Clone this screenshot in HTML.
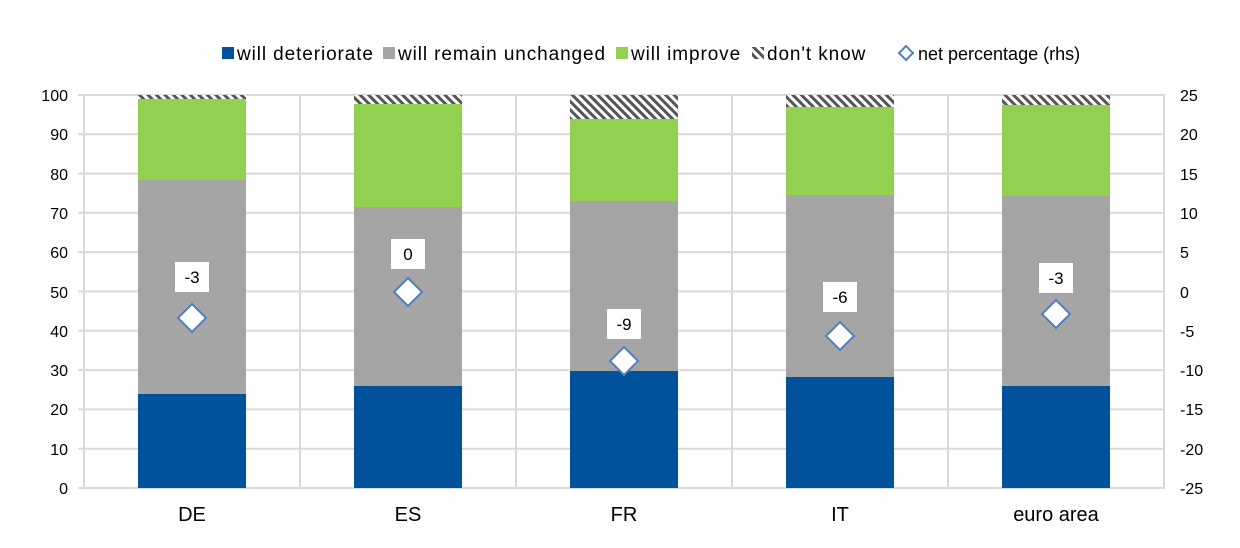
<!DOCTYPE html>
<html><head><meta charset="utf-8"><style>
html,body{margin:0;padding:0;background:#fff;}
svg{display:block;}
text{font-family:"Liberation Sans",Arial,sans-serif;fill:#000;}
.r{font-family:"Liberation Serif",serif;font-size:16px;}
</style></head><body>
<svg width="1240" height="548" viewBox="0 0 1240 548" xmlns="http://www.w3.org/2000/svg">
<defs>
<pattern id="h" patternUnits="userSpaceOnUse" width="6" height="6" patternTransform="rotate(-45)">
<rect width="6" height="6" fill="#fff"/><rect x="0" y="0" width="3" height="6" fill="#555"/>
</pattern>
</defs>
<g stroke="#d9d9d9" stroke-width="2">
<line x1="78" y1="95" x2="1165" y2="95"/>
<line x1="78" y1="134.3" x2="1165" y2="134.3"/>
<line x1="78" y1="173.6" x2="1165" y2="173.6"/>
<line x1="78" y1="212.9" x2="1165" y2="212.9"/>
<line x1="78" y1="252.2" x2="1165" y2="252.2"/>
<line x1="78" y1="291.5" x2="1165" y2="291.5"/>
<line x1="78" y1="330.8" x2="1165" y2="330.8"/>
<line x1="78" y1="370.1" x2="1165" y2="370.1"/>
<line x1="78" y1="409.4" x2="1165" y2="409.4"/>
<line x1="78" y1="448.7" x2="1165" y2="448.7"/>
<line x1="78" y1="488" x2="1165" y2="488"/>
<line x1="84" y1="95" x2="84" y2="488"/>
<line x1="300" y1="95" x2="300" y2="488"/>
<line x1="516" y1="95" x2="516" y2="488"/>
<line x1="732" y1="95" x2="732" y2="488"/>
<line x1="948" y1="95" x2="948" y2="488"/>
<line x1="1164" y1="95" x2="1164" y2="488"/>
</g>
<g>
<rect x="138" y="95" width="108" height="4" fill="url(#h)"/>
<rect x="138" y="99" width="108" height="81" fill="#92d050"/>
<rect x="138" y="180" width="108" height="214" fill="#a5a5a5"/>
<rect x="138" y="394" width="108" height="94" fill="#00529b"/>

<rect x="354" y="95" width="108" height="9" fill="url(#h)"/>
<rect x="354" y="104" width="108" height="103" fill="#92d050"/>
<rect x="354" y="207" width="108" height="179" fill="#a5a5a5"/>
<rect x="354" y="386" width="108" height="102" fill="#00529b"/>

<rect x="570" y="95" width="108" height="24" fill="url(#h)"/>
<rect x="570" y="119" width="108" height="82" fill="#92d050"/>
<rect x="570" y="201" width="108" height="170" fill="#a5a5a5"/>
<rect x="570" y="371" width="108" height="117" fill="#00529b"/>

<rect x="786" y="95" width="108" height="12" fill="url(#h)"/>
<rect x="786" y="107" width="108" height="88" fill="#92d050"/>
<rect x="786" y="195" width="108" height="182" fill="#a5a5a5"/>
<rect x="786" y="377" width="108" height="111" fill="#00529b"/>

<rect x="1002" y="95" width="108" height="10" fill="url(#h)"/>
<rect x="1002" y="105" width="108" height="91" fill="#92d050"/>
<rect x="1002" y="196" width="108" height="190" fill="#a5a5a5"/>
<rect x="1002" y="386" width="108" height="102" fill="#00529b"/>
</g>
<g fill="#fff" stroke="#4f81bd" stroke-width="2">
<polygon points="192,304 206,318 192,332 178,318"/>
<polygon points="408,278 422,292 408,306 394,292"/>
<polygon points="624,347 638,361 624,375 610,361"/>
<polygon points="840,322 854,336 840,350 826,336"/>
<polygon points="1056,300 1070,314 1056,328 1042,314"/>
</g>
<g fill="#fff">
<rect x="175" y="262" width="34" height="30"/>
<rect x="391" y="239" width="34" height="30"/>
<rect x="607" y="309" width="34" height="30"/>
<rect x="823" y="282" width="34" height="30"/>
<rect x="1039" y="263" width="34" height="30"/>
</g>
<g font-size="17" text-anchor="middle">
<text x="192" y="283">-3</text>
<text x="408" y="260">0</text>
<text x="624" y="330">-9</text>
<text x="840" y="303">-6</text>
<text x="1056" y="284">-3</text>
</g>
<g font-size="16" text-anchor="end">
<text x="68" y="101">100</text>
<text x="68" y="140">90</text>
<text x="68" y="180">80</text>
<text x="68" y="219">70</text>
<text x="68" y="258">60</text>
<text x="68" y="298">50</text>
<text x="68" y="337">40</text>
<text x="68" y="376">30</text>
<text x="68" y="415">20</text>
<text x="68" y="455">10</text>
<text x="68" y="494">0</text>
</g>
<g class="r">
<text x="1180" y="101">25</text>
<text x="1180" y="140">20</text>
<text x="1180" y="180">15</text>
<text x="1180" y="219">10</text>
<text x="1180" y="258">5</text>
<text x="1180" y="298">0</text>
<text x="1180" y="337">-5</text>
<text x="1180" y="376">-10</text>
<text x="1180" y="415">-15</text>
<text x="1180" y="455">-20</text>
<text x="1180" y="494">-25</text>
</g>
<g font-size="20" text-anchor="middle">
<text x="192" y="521">DE</text>
<text x="408" y="521">ES</text>
<text x="624" y="521">FR</text>
<text x="840" y="521">IT</text>
<text x="1056" y="521">euro area</text>
</g>
<g font-size="19" letter-spacing="0.9">
<rect x="222" y="47" width="12" height="12" fill="#00529b"/>
<text x="237" y="60">will deteriorate</text>
<rect x="383" y="47" width="12" height="12" fill="#a5a5a5"/>
<text x="398" y="60">will remain unchanged</text>
<rect x="616" y="47" width="12" height="12" fill="#92d050"/>
<text x="631" y="60">will improve</text>
<rect x="752" y="47" width="12" height="12" fill="url(#h)"/>
<text x="767" y="60">don't know</text>
<polygon points="906,46 913,53 906,60 899,53" fill="#fff" stroke="#4f81bd" stroke-width="2"/>
<text x="918" y="60" letter-spacing="0" font-size="18">net percentage (rhs)</text>
</g>
</svg>
</body></html>
